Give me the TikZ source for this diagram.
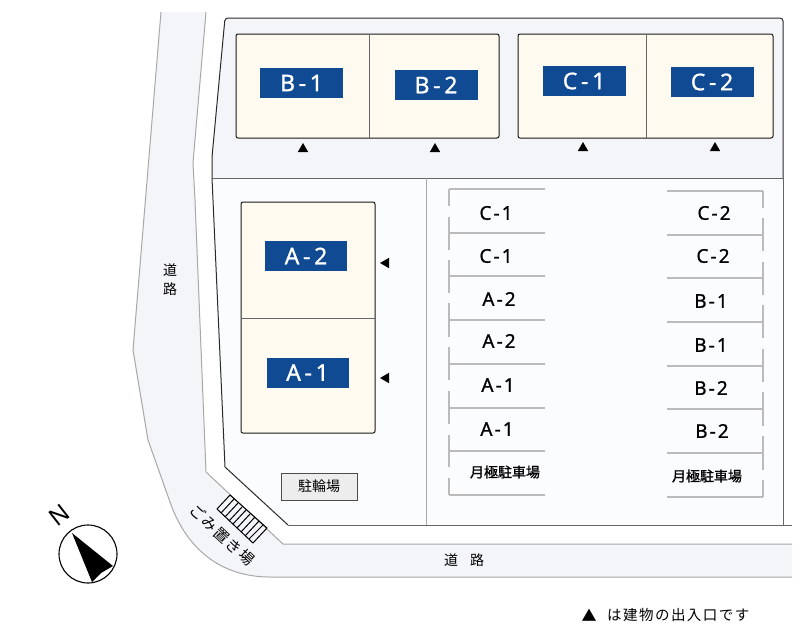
\documentclass[tikz,border=0pt]{standalone}
\usepackage{fontspec}
\usetikzlibrary{shapes.geometric}
\setmainfont{Noto Sans}
\newfontfamily\jpfont{Noto Sans CJK JP}
\newfontfamily\jpbold[FakeBold=1]{Noto Sans CJK JP}
\newfontfamily\jpwide[LetterSpace=10]{Noto Sans CJK JP}
\newfontfamily\refusefont[LetterSpace=12]{Noto Sans CJK JP}
\newfontfamily\tagfont[LetterSpace=16,FakeBold=1]{Noto Sans}
\newfontfamily\lotfont[LetterSpace=11,FakeBold=0.8]{Noto Sans}
\definecolor{RoadFill}{HTML}{F4F5F9}
\definecolor{YardFill}{HTML}{FBFCFD}
\definecolor{RoadLine}{HTML}{A8A8A8}
\definecolor{SiteLine}{HTML}{2A2A2A}
\definecolor{LotLine}{HTML}{BBBBBB}
\definecolor{BuildFill}{HTML}{FEFAF0}
\definecolor{TagBlue}{HTML}{0F4A92}
\tikzset{
    roadedge/.style={RoadLine, line width=1pt},
    siteedge/.style={SiteLine, line width=1pt},
    building/.style={draw=black!90, fill=BuildFill, line width=1pt, rounded corners=2pt},
    party/.style={black!60, line width=1pt},
    tag/.style={fill=TagBlue, text=white, minimum width=83pt, minimum height=30pt, inner sep=0pt, font=\tagfont\fontsize{23}{23}\selectfont},
    entry/.style={regular polygon, regular polygon sides=3, fill=black, minimum size=12pt, inner sep=0pt},
    lotline/.style={LotLine, line width=1.1pt},
    lotlabel/.style={inner sep=0pt, font=\lotfont\fontsize{19}{19}\selectfont},
    lotnote/.style={inner sep=0pt, font=\jpbold\fontsize{14}{14}\selectfont},
    roadlabel/.style={inner sep=0pt, font=\jpfont\fontsize{14}{14}\selectfont}
}
\begin{document}
\begin{tikzpicture}[x=1pt, y=-1pt]
    \useasboundingbox (0,0) rectangle (800,638);

    % Road
    \fill[RoadFill] (161,12) -- (133,350) -- (148,440) -- (170,502) .. controls (186,548) and (220,577) .. (270,577) -- (792,577) -- (792,544) -- (283,544) -- (206,472) -- (195,200) -- (193,163) -- (206,12) -- cycle;
    \draw[roadedge] (161,12) -- (133,350) -- (148,440) -- (170,502) .. controls (186,548) and (220,577) .. (270,577) -- (792,577);
    \draw[roadedge] (206,12) -- (193,163) -- (195,200) -- (206,472) -- (283,544) -- (792,544);

    % Site
    \fill[YardFill] (212,178) -- (225,467) -- (288,525) -- (783,525) -- (783,178) -- cycle;
    \fill[RoadFill, rounded corners=3pt] (212,178) -- (212,157) -- (225,18) -- (783,18) -- (783,178) -- cycle;
    \draw[siteedge, rounded corners=3pt] (212,178) -- (212,157) -- (225,18) -- (783,18) -- (783,178);
    \draw[siteedge] (212,178) -- (225,467) -- (288,525);
    \draw[black!60, line width=1pt] (288,525) -- (792,525);
    \draw[black!60, line width=1pt] (212,178) -- (783,178);
    \draw[black!60, line width=1pt] (783,178) -- (783,525);
    \draw[RoadLine, line width=1pt] (426,178) -- (426,525);

    % Buildings
    \draw[building] (236,34) rectangle (499,138);
    \draw[party] (369,34) -- (369,138);
    \draw[building] (518,34) rectangle (773,138);
    \draw[party] (646,34) -- (646,138);
    \draw[building] (241,202) rectangle (375,433);
    \draw[party] (241,318) -- (375,318);

    % Building names
    \node[tag] (tagB1) at (301.5,83) {B-1};
    \node[tag] (tagB2) at (436,85) {B-2};
    \node[tag] (tagC1) at (584,81) {C-1};
    \node[tag] (tagC2) at (712,82) {C-2};
    \node[tag, minimum width=82pt] (tagA2) at (306,256) {A-2};
    \node[tag, minimum width=82pt] (tagA1) at (307.5,372.5) {A-1};

    % Entrances
    \node[entry] (doorB1) at (303,149) {};
    \node[entry] (doorB2) at (435,149) {};
    \node[entry] (doorC1) at (583,148) {};
    \node[entry] (doorC2) at (715,148) {};
    \node[entry, rotate=90] (doorA2) at (386,263) {};
    \node[entry, rotate=90] (doorA1) at (386,378) {};

    % Parking, left row
    \draw[lotline] (449,189) -- (545,189);
    \draw[lotline] (449,233) -- (545,233);
    \draw[lotline] (449,276) -- (545,276);
    \draw[lotline] (449,320) -- (545,320);
    \draw[lotline] (449,364) -- (545,364);
    \draw[lotline] (449,408) -- (545,408);
    \draw[lotline] (449,451) -- (545,451);
    \draw[lotline] (449,495) -- (545,495);
    \draw[lotline] (449,189) -- (449,206) (449,217) -- (449,250) (449,260) -- (449,293) (449,303) -- (449,337) (449,347) -- (449,380) (449,391) -- (449,424) (449,435) -- (449,467) (449,478) -- (449,495);

    % Parking, right row
    \draw[lotline] (667,191) -- (763,191);
    \draw[lotline] (667,235) -- (763,235);
    \draw[lotline] (667,278) -- (763,278);
    \draw[lotline] (667,322) -- (763,322);
    \draw[lotline] (667,366) -- (763,366);
    \draw[lotline] (667,409) -- (763,409);
    \draw[lotline] (667,453) -- (763,453);
    \draw[lotline] (667,497) -- (763,497);
    \draw[lotline] (763,191) -- (763,208) (763,218) -- (763,251) (763,262) -- (763,295) (763,305) -- (763,338) (763,349) -- (763,382) (763,392) -- (763,426) (763,436) -- (763,470) (763,480) -- (763,497);

    % Parking labels
    \node[lotlabel] (lotL1) at (496,213) {C-1};
    \node[lotlabel] (lotL2) at (496,256) {C-1};
    \node[lotlabel] (lotL3) at (499,299) {A-2};
    \node[lotlabel] (lotL4) at (499,341) {A-2};
    \node[lotlabel] (lotL5) at (498,385) {A-1};
    \node[lotlabel] (lotL6) at (497,429) {A-1};
    \node[lotnote] (lotL7) at (505,472) {月極駐車場};
    \node[lotlabel] (lotR1) at (714,213) {C-2};
    \node[lotlabel] (lotR2) at (713,256) {C-2};
    \node[lotlabel] (lotR3) at (711,301) {B-1};
    \node[lotlabel] (lotR4) at (711,345) {B-1};
    \node[lotlabel] (lotR5) at (711,388) {B-2};
    \node[lotlabel] (lotR6) at (712,431) {B-2};
    \node[lotnote] (lotR7) at (707,476) {月極駐車場};

    % Bicycle shed
    \node[draw=black!70, fill=black!7, line width=1pt, minimum width=76pt, minimum height=27pt, inner sep=0pt, font=\jpfont\fontsize{14}{14}\selectfont] (bikes) at (319,486.5) {駐輪場};

    % Refuse area
    \draw[black, line width=1pt] (230,495) -- (217,509) -- (253,543) -- (267,528) -- cycle;
    \draw[black, line width=1pt] (234,499) -- (221,513);
    \draw[black, line width=1pt] (238,503) -- (225,517);
    \draw[black, line width=1pt] (242,507) -- (229,521);
    \draw[black, line width=1pt] (246,510) -- (233,524);
    \draw[black, line width=1pt] (250,514) -- (237,528);
    \draw[black, line width=1pt] (255,517) -- (241,532);
    \draw[black, line width=1pt] (259,521) -- (245,536);
    \draw[black, line width=1pt] (263,525) -- (249,539);
    \node[inner sep=0pt, rotate=-43, font=\refusefont\fontsize{15}{15}\selectfont] (refuse) at (222,535) {ごみ置き場};

    % Road names
    \node[roadlabel] (roadW1) at (170,270) {道};
    \node[roadlabel] (roadW2) at (170,289) {路};
    \node[roadlabel] (roadS1) at (451,560) {道};
    \node[roadlabel] (roadS2) at (477,560) {路};

    % Compass
    \node[draw=black, circle, line width=1.1pt, minimum size=58pt, inner sep=0pt] (compass) at (88,554) {};
    \fill[black] (72,533) -- (113,566) -- (101,573) -- (92,582) -- cycle;
    \node[inner sep=0pt, rotate=38, font=\bfseries\fontsize{24}{24}\selectfont] (north) at (59,515) {N};

    % Legend
    \node[inner sep=0pt, font=\jpfont\fontsize{15}{15}\selectfont] (legendmark) at (589,615) {▲};
    \node[inner sep=0pt, anchor=west, font=\jpwide\fontsize{14.5}{14.5}\selectfont] (legend) at (607,615) {は建物の出入口です};
\end{tikzpicture}
\end{document}
